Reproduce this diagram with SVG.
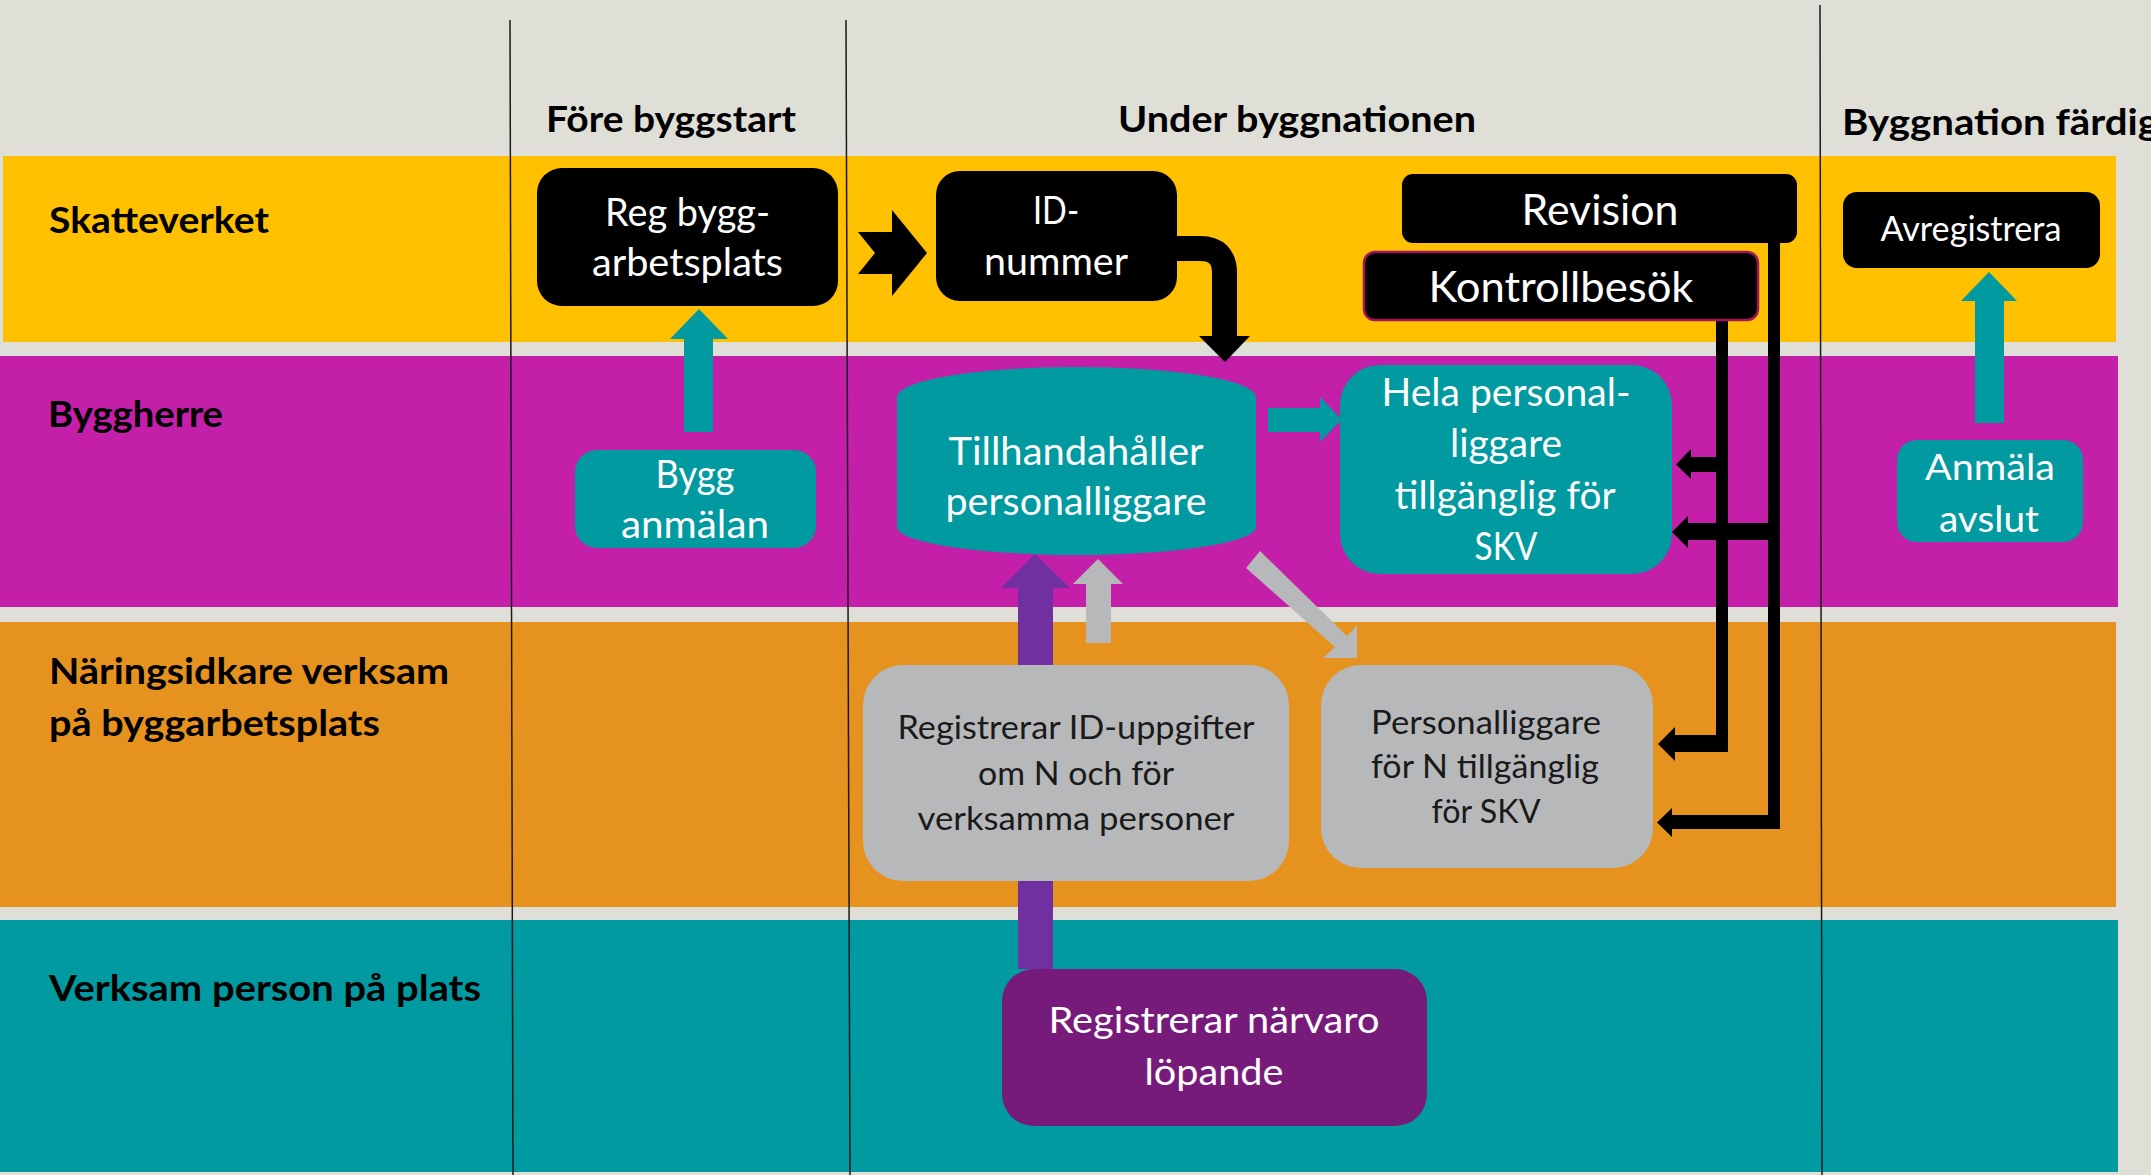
<svg xmlns="http://www.w3.org/2000/svg" width="2151" height="1175" viewBox="0 0 2151 1175">
<style>
text{font-family:Lato,"Liberation Sans",sans-serif}
.hdr{font-weight:bold;font-size:37px;fill:#000}
.lane{font-weight:bold;font-size:37px;fill:#000}
.nt{font-size:39px;fill:#fff;text-anchor:middle}
.dk{font-size:33px;fill:#1a1a1a;text-anchor:middle}
.blk{fill:#000}
.teal{fill:#009AA0}
.gray{fill:#B7B8BA}
.vl{stroke:#1a1a1a;stroke-width:1.5;fill:none}
</style>
<rect x="0" y="0" width="2151" height="1175" fill="#DFDFD7"/>
<g id="lanes">
<rect x="3" y="156" width="2113" height="186" fill="#FFC000"/>
<rect x="0" y="356" width="2118" height="251" fill="#C31FA9"/>
<rect x="0" y="622" width="2116" height="285" fill="#E6921E"/>
<rect x="0" y="920" width="2118" height="252" fill="#009AA0"/>
</g>
<g id="dividers">
<line class="vl" x1="510" y1="20" x2="513" y2="1175"/>
<line class="vl" x1="846" y1="20" x2="850" y2="1175"/>
<line class="vl" x1="1820" y1="5" x2="1822" y2="1175"/>
</g>
<g id="headers">
<text class="hdr" x="546" y="132" textLength="250" lengthAdjust="spacingAndGlyphs">Före byggstart</text>
<text class="hdr" x="1118" y="132" textLength="358" lengthAdjust="spacingAndGlyphs">Under byggnationen</text>
<text class="hdr" x="1842" y="135" textLength="317" lengthAdjust="spacingAndGlyphs">Byggnation färdig</text>
</g>
<g id="lane-labels">
<text class="lane" x="49" y="233" textLength="220" lengthAdjust="spacingAndGlyphs">Skatteverket</text>
<text class="lane" x="48" y="427" textLength="175" lengthAdjust="spacingAndGlyphs">Byggherre</text>
<text class="lane" x="49" y="684" textLength="400" lengthAdjust="spacingAndGlyphs">Näringsidkare verksam</text>
<text class="lane" x="49" y="736" textLength="331" lengthAdjust="spacingAndGlyphs">på byggarbetsplats</text>
<text class="lane" x="49" y="1001" textLength="432" lengthAdjust="spacingAndGlyphs">Verksam person på plats</text>
</g>
<g id="connectors">
<polygon class="blk" points="858,232 875,253 858,274 892,274 892,296 927,253 892,210 892,232"/>
<path d="M1170,248.5 H1200 Q1224.5,248.5 1224.5,273 V337" fill="none" stroke="#000" stroke-width="25"/>
<polygon class="blk" points="1199,336 1250,336 1225,362"/>
<polygon class="teal" points="684,432 713,432 713,339 728,339 699,309 670,339 684,339"/>
<polygon class="teal" points="1975,423 2004,423 2004,301 2017,301 1989,272 1961,301 1975,301"/>
<polygon class="teal" points="1268,408 1320,408 1320,397 1342,419.5 1320,442 1320,432 1268,432"/>
<polygon fill="#7030A0" points="1018,969 1053,969 1053,588 1070,588 1035,554 1001,588 1018,588"/>
<polygon class="gray" points="1086,643 1111,643 1111,584 1123,584 1098,559 1073,584 1086,584"/>
<polygon class="gray" points="1260,551 1347,636 1357,625 1357,658 1323,658 1335,647 1246,568"/>
<rect class="blk" x="1716" y="315" width="12" height="437"/>
<rect class="blk" x="1768" y="240" width="12" height="589"/>
<polygon class="blk" points="1716,457 1691,457 1691,449 1676,464.5 1691,479 1691,472 1716,472"/>
<polygon class="blk" points="1780,523 1688,523 1688,516 1672,532 1688,548 1688,540 1780,540"/>
<polygon class="blk" points="1728,735 1675,735 1675,727 1658,744 1675,761 1675,752 1728,752"/>
<polygon class="blk" points="1780,815 1672,815 1672,808 1657,822.5 1672,837 1672,829 1780,829"/>
</g>
<g id="reg-byggarbetsplats">
<rect class="blk" x="537" y="168" width="301" height="138" rx="25"/>
<text class="nt" x="687.5" y="226" textLength="165" lengthAdjust="spacingAndGlyphs">Reg bygg-</text>
<text class="nt" x="687.5" y="276" textLength="191" lengthAdjust="spacingAndGlyphs">arbetsplats</text>
</g>
<g id="id-nummer">
<rect class="blk" x="936" y="171" width="241" height="130" rx="24"/>
<text class="nt" x="1056" y="224" textLength="46" lengthAdjust="spacingAndGlyphs">ID-</text>
<text class="nt" x="1056" y="275" textLength="144" lengthAdjust="spacingAndGlyphs">nummer</text>
</g>
<g id="revision">
<rect class="blk" x="1402" y="174" width="395" height="69" rx="11"/>
<text class="nt" x="1600" y="225" style="font-size:43px" textLength="157" lengthAdjust="spacingAndGlyphs">Revision</text>
</g>
<g id="kontrollbesok">
<rect class="blk" x="1364" y="252" width="394" height="68" rx="11" stroke="#A3145C" stroke-width="2.5"/>
<text class="nt" x="1561" y="302" style="font-size:42px" textLength="265" lengthAdjust="spacingAndGlyphs">Kontrollbesök</text>
</g>
<g id="avregistrera">
<rect class="blk" x="1843" y="192" width="257" height="76" rx="14"/>
<text class="nt" x="1971" y="241" style="font-size:34px" textLength="181" lengthAdjust="spacingAndGlyphs">Avregistrera</text>
</g>
<g id="bygganmalan">
<rect class="teal" x="575" y="450" width="241" height="98" rx="22"/>
<text class="nt" x="695" y="488" textLength="79" lengthAdjust="spacingAndGlyphs">Bygg</text>
<text class="nt" x="695" y="538" textLength="148" lengthAdjust="spacingAndGlyphs">anmälan</text>
</g>
<g id="tillhandahaller">
<path class="teal" d="M897,397 A179.5,30 0 0 1 1256,397 V527 A179.5,28 0 0 1 897,527 Z"/>
<text class="nt" x="1076" y="465" textLength="255" lengthAdjust="spacingAndGlyphs">Tillhandahåller</text>
<text class="nt" x="1076" y="515" textLength="261" lengthAdjust="spacingAndGlyphs">personalliggare</text>
</g>
<g id="hela-personalliggare">
<rect class="teal" x="1340" y="365" width="332" height="209" rx="40"/>
<text class="nt" x="1506" y="406" style="font-size:38px" textLength="249" lengthAdjust="spacingAndGlyphs">Hela personal-</text>
<text class="nt" x="1506" y="457" style="font-size:38px" textLength="112" lengthAdjust="spacingAndGlyphs">liggare</text>
<text class="nt" x="1505" y="509" style="font-size:38px" textLength="221" lengthAdjust="spacingAndGlyphs">tillgänglig för</text>
<text class="nt" x="1506" y="560" style="font-size:38px" textLength="63" lengthAdjust="spacingAndGlyphs">SKV</text>
</g>
<g id="anmala-avslut">
<rect class="teal" x="1897" y="440" width="186" height="102" rx="20"/>
<text class="nt" x="1990" y="480" style="font-size:37px" textLength="130" lengthAdjust="spacingAndGlyphs">Anmäla</text>
<text class="nt" x="1989" y="532" style="font-size:37px" textLength="100" lengthAdjust="spacingAndGlyphs">avslut</text>
</g>
<g id="registrerar-id">
<rect class="gray" x="863" y="665" width="426" height="216" rx="40"/>
<text class="dk" x="1076" y="739" textLength="357" lengthAdjust="spacingAndGlyphs">Registrerar ID-uppgifter</text>
<text class="dk" x="1076" y="785" textLength="196" lengthAdjust="spacingAndGlyphs">om N och för</text>
<text class="dk" x="1076" y="830" textLength="317" lengthAdjust="spacingAndGlyphs">verksamma personer</text>
</g>
<g id="personalliggare-n">
<rect class="gray" x="1321" y="665" width="332" height="203" rx="40"/>
<text class="dk" x="1486" y="734" textLength="230" lengthAdjust="spacingAndGlyphs">Personalliggare</text>
<text class="dk" x="1485" y="778" textLength="228" lengthAdjust="spacingAndGlyphs">för N tillgänglig</text>
<text class="dk" x="1486" y="823" textLength="109" lengthAdjust="spacingAndGlyphs">för SKV</text>
</g>
<g id="registrerar-narvaro">
<rect x="1002" y="969" width="425" height="157" rx="32" fill="#771B7B"/>
<text class="nt" x="1214" y="1033" style="font-size:37px" textLength="331" lengthAdjust="spacingAndGlyphs">Registrerar närvaro</text>
<text class="nt" x="1214" y="1085" style="font-size:37px" textLength="139" lengthAdjust="spacingAndGlyphs">löpande</text>
</g>
</svg>
